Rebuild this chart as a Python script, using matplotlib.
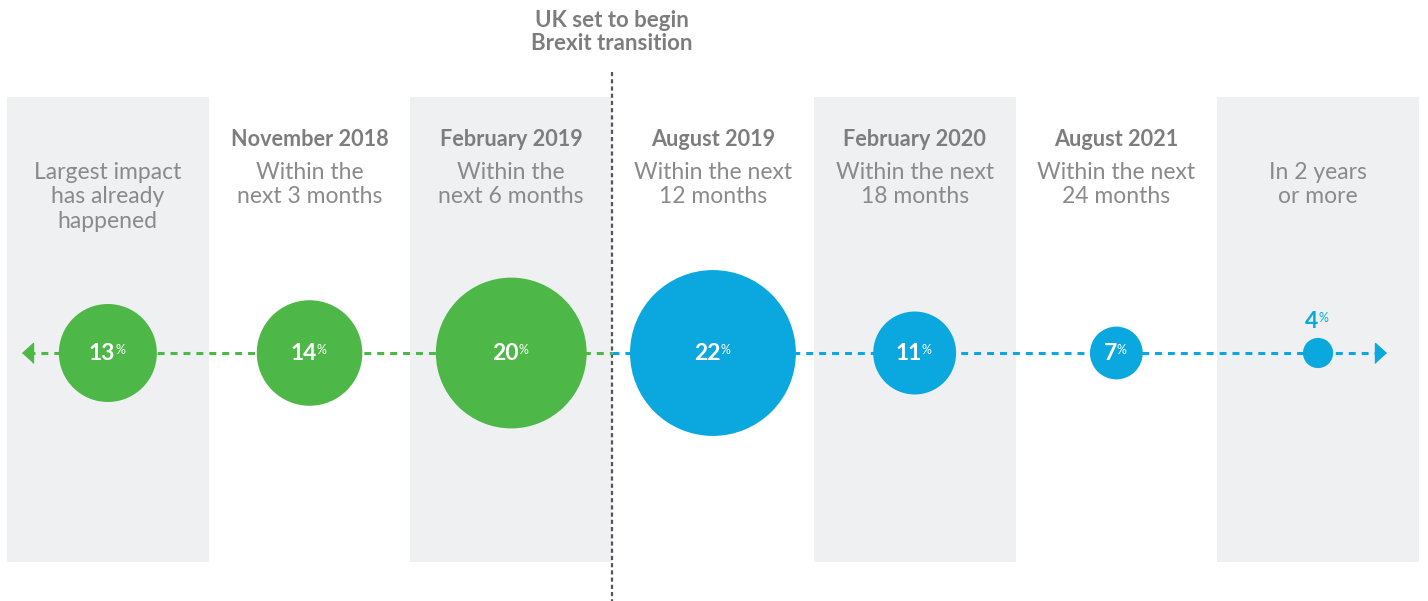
import matplotlib
matplotlib.use("Agg")
import matplotlib.pyplot as plt

# ---- data ----
periods = ["", "November 2018", "February 2019", "August 2019",
           "February 2020", "August 2021", ""]
descriptions = [
    "Largest impact\nhas already\nhappened",
    "Within the\nnext 3 months",
    "Within the\nnext 6 months",
    "Within the next\n12 months",
    "Within the next\n18 months",
    "Within the next\n24 months",
    "In 2 years\nor more",
]
shares = [13, 14, 20, 22, 11, 7, 4]
shaded = [True, False, True, False, True, False, True]
marker_text = "UK set to begin\nBrexit transition"

GREEN = "#4db848"
BLUE = "#0aa8df"
BAND = "#eff0f2"
TITLE_GREY = "#7d7d7d"
SUB_GREY = "#8a8a8a"
FONT = "Lato"

plt.rcParams["font.family"] = [FONT, "DejaVu Sans"]
plt.rcParams["lines.scale_dashes"] = False

W, H, DPI = 1428, 601, 100
fig = plt.figure(figsize=(W / DPI, H / DPI), dpi=DPI)
ax = fig.add_axes([0, 0, 1, 1])
col_w = 201.7
x0 = -0.5 - 7 / col_w
ax.set_xlim(x0, x0 + W / col_w)
ax.set_ylim(H, 0)  # y in pixel-like layout units, top down
ax.axis("off")

LINE_Y = 353
SPLIT = 2.5  # boundary between Feb 2019 and Aug 2019 columns
n = len(shares)
xs = list(range(n))

# grey bands
for i, s in enumerate(shaded):
    if s:
        ax.axvspan(i - 0.5, i + 0.5, ymin=(H - 562) / H, ymax=(H - 97) / H,
                   color=BAND, lw=0, zorder=0)

# vertical transition marker
ax.plot([SPLIT, SPLIT], [72, H], color="#555555", lw=1.6,
        dashes=(3.0, 2.2), zorder=1)
ax.text(SPLIT, 32, marker_text, ha="center", va="center", fontsize=16,
        fontweight="bold", color=TITLE_GREY, linespacing=1.15)

# timeline
left_tip = -0.5 + 15 / col_w
right_tip = n - 0.5 - 33 / col_w
ax.plot([left_tip + 0.03, SPLIT], [LINE_Y, LINE_Y], color=GREEN, lw=2.2,
        dashes=(5, 4.3), zorder=2)
ax.plot([SPLIT, right_tip - 0.03], [LINE_Y, LINE_Y], color=BLUE, lw=2.2,
        dashes=(5, 4.3), zorder=2)
arrow_l = [(0, 0), (1.1, 1), (1.1, -1)]
arrow_r = [(0, 0), (-1.1, 1), (-1.1, -1)]
ax.plot(left_tip, LINE_Y, marker=arrow_l, markersize=15.8, color=GREEN, lw=0, zorder=3)
ax.plot(right_tip, LINE_Y, marker=arrow_r, markersize=15.8, color=BLUE, lw=0, zorder=3)

# bubbles: radius proportional to share
px2pt = 72 / DPI
colors = [GREEN if x < SPLIT else BLUE for x in xs]
sizes = [(2 * 3.77 * v * px2pt) ** 2 for v in shares]
ax.scatter(xs, [LINE_Y] * n, s=sizes, c=colors, linewidths=0, zorder=4)

# value labels
for x, v, c in zip(xs, shares, colors):
    inside = v >= 7
    tc = "white" if inside else c
    y = LINE_Y + 1 if inside else LINE_Y - 31
    t = ax.text(x - 0.03, y, str(v), ha="center", va="center",
                fontsize=16.5, fontweight="bold", color=tc, zorder=5)
    ax.annotate("%", xy=(1, 0.97), xycoords=t, xytext=(0, 0),
                textcoords="offset points", ha="left", va="top",
                fontsize=9, color=tc, zorder=5)

# column headings
for x, p, d in zip(xs, periods, descriptions):
    if p:
        ax.text(x, 139, p, ha="center", va="center", fontsize=15.6,
                fontweight="bold", color=TITLE_GREY)
    ax.text(x, 162, d, ha="center", va="top", fontsize=16.5,
            color=SUB_GREY, linespacing=1.2)

fig.savefig("out.png", dpi=DPI, facecolor="white")
